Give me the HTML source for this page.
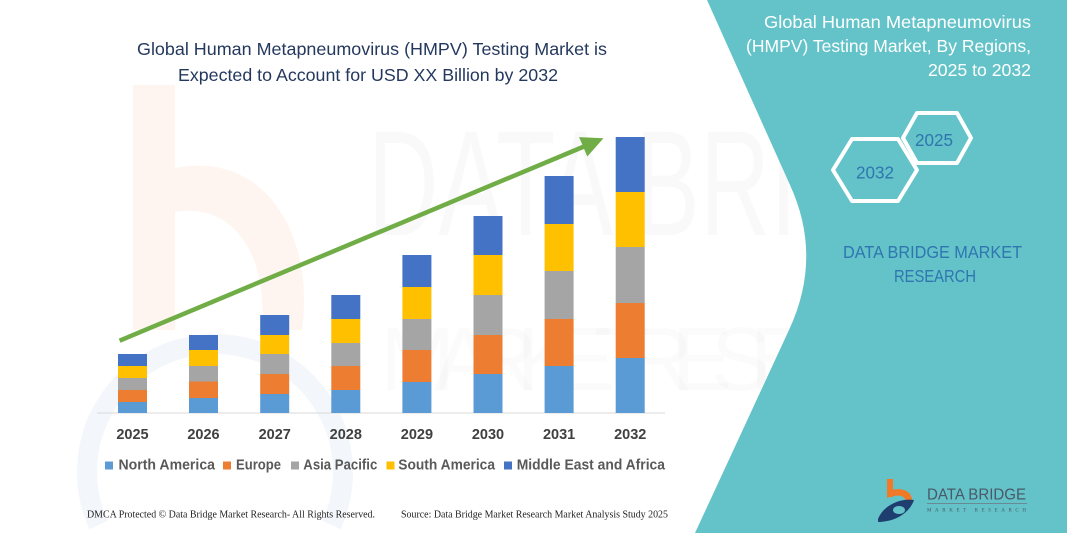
<!DOCTYPE html>
<html><head><meta charset="utf-8"><style>
html,body{margin:0;padding:0;background:#fff;width:1067px;height:533px;overflow:hidden;}
svg{display:block;}
</style></head><body>
<svg width="1067" height="533" viewBox="0 0 1067 533" xmlns="http://www.w3.org/2000/svg" font-family="'Liberation Sans', sans-serif">
<rect width="1067" height="533" fill="#fff"/>

<!-- faint watermarks -->
<path d="M133,85 h42 v245 h-42z" fill="#FEF5F1"/>
<path d="M175,168 C265,150 315,235 302,330 L262,330 C268,252 232,202 175,212Z" fill="#FEF5F1"/>
<path d="M98.5,525 A128,128 0 1 1 331.5,525" fill="none" stroke="#F3F6FA" stroke-width="20"/>
<text x="368" y="235" font-size="150" fill="#000" fill-opacity="0.022" textLength="640" lengthAdjust="spacingAndGlyphs">DATA BRIDGE</text>
<text x="380" y="390" font-size="90" fill="#000" fill-opacity="0.015" textLength="600" lengthAdjust="spacing">MARKETRESEARCH</text>

<!-- teal panel -->
<path d="M707,0 L1067,0 L1067,533 L695,533 L789,330 Q823,257 790,185 Z" fill="#63C3C8"/>

<!-- left title -->
<text x="137" y="55" font-size="17.5" fill="#24385E" textLength="470" lengthAdjust="spacingAndGlyphs">Global Human Metapneumovirus (HMPV) Testing Market is</text>
<text x="178" y="81" font-size="17.5" fill="#24385E" textLength="380" lengthAdjust="spacingAndGlyphs">Expected to Account for USD XX Billion by 2032</text>

<!-- axis line -->
<line x1="97" y1="413" x2="665" y2="413" stroke="#D9D9D9" stroke-width="1"/>

<!-- bars -->
<g>
<rect x="118" y="402" width="29" height="11" fill="#5B9BD5"/>
<rect x="118" y="390" width="29" height="12" fill="#ED7D31"/>
<rect x="118" y="378" width="29" height="12" fill="#A5A5A5"/>
<rect x="118" y="366" width="29" height="12" fill="#FFC000"/>
<rect x="118" y="354" width="29" height="12" fill="#4472C4"/>
<rect x="189" y="398" width="29" height="15" fill="#5B9BD5"/>
<rect x="189" y="381.5" width="29" height="16.5" fill="#ED7D31"/>
<rect x="189" y="366" width="29" height="15.5" fill="#A5A5A5"/>
<rect x="189" y="350" width="29" height="16" fill="#FFC000"/>
<rect x="189" y="335" width="29" height="15" fill="#4472C4"/>
<rect x="260.2" y="394" width="29" height="19" fill="#5B9BD5"/>
<rect x="260.2" y="374" width="29" height="20" fill="#ED7D31"/>
<rect x="260.2" y="354" width="29" height="20" fill="#A5A5A5"/>
<rect x="260.2" y="335" width="29" height="19" fill="#FFC000"/>
<rect x="260.2" y="315" width="29" height="20" fill="#4472C4"/>
<rect x="331.3" y="390" width="29" height="23" fill="#5B9BD5"/>
<rect x="331.3" y="366" width="29" height="24" fill="#ED7D31"/>
<rect x="331.3" y="343" width="29" height="23" fill="#A5A5A5"/>
<rect x="331.3" y="319" width="29" height="24" fill="#FFC000"/>
<rect x="331.3" y="295" width="29" height="24" fill="#4472C4"/>
<rect x="402.4" y="382" width="29" height="31" fill="#5B9BD5"/>
<rect x="402.4" y="350" width="29" height="32" fill="#ED7D31"/>
<rect x="402.4" y="319" width="29" height="31" fill="#A5A5A5"/>
<rect x="402.4" y="287" width="29" height="32" fill="#FFC000"/>
<rect x="402.4" y="255" width="29" height="32" fill="#4472C4"/>
<rect x="473.5" y="374" width="29" height="39" fill="#5B9BD5"/>
<rect x="473.5" y="335" width="29" height="39" fill="#ED7D31"/>
<rect x="473.5" y="295" width="29" height="40" fill="#A5A5A5"/>
<rect x="473.5" y="255" width="29" height="40" fill="#FFC000"/>
<rect x="473.5" y="216" width="29" height="39" fill="#4472C4"/>
<rect x="544.6" y="366" width="29" height="47" fill="#5B9BD5"/>
<rect x="544.6" y="319" width="29" height="47" fill="#ED7D31"/>
<rect x="544.6" y="271" width="29" height="48" fill="#A5A5A5"/>
<rect x="544.6" y="224" width="29" height="47" fill="#FFC000"/>
<rect x="544.6" y="176" width="29" height="48" fill="#4472C4"/>
<rect x="615.7" y="358" width="29" height="55" fill="#5B9BD5"/>
<rect x="615.7" y="303" width="29" height="55" fill="#ED7D31"/>
<rect x="615.7" y="247" width="29" height="56" fill="#A5A5A5"/>
<rect x="615.7" y="192" width="29" height="55" fill="#FFC000"/>
<rect x="615.7" y="137" width="29" height="55" fill="#4472C4"/>
</g>

<!-- arrow -->
<line x1="119.6" y1="340.7" x2="584" y2="146.5" stroke="#70AD47" stroke-width="4.5"/>
<polygon points="603.5,138.3 587.3,156.5 579.1,137.1" fill="#70AD47"/>

<!-- year labels -->
<g font-size="14.5" font-weight="bold" fill="#404040" text-anchor="middle">
<text x="132.5" y="439">2025</text>
<text x="203.5" y="439">2026</text>
<text x="274.7" y="439">2027</text>
<text x="345.8" y="439">2028</text>
<text x="416.9" y="439">2029</text>
<text x="488" y="439">2030</text>
<text x="559.1" y="439">2031</text>
<text x="630.2" y="439">2032</text>
</g>

<!-- legend -->
<rect x="105" y="461.5" width="8" height="8" fill="#5B9BD5"/>
<rect x="223" y="461.5" width="8" height="8" fill="#ED7D31"/>
<rect x="291" y="461.5" width="8" height="8" fill="#A5A5A5"/>
<rect x="386.5" y="461.5" width="8" height="8" fill="#FFC000"/>
<rect x="504" y="461.5" width="8" height="8" fill="#4472C4"/>
<g font-size="14.5" font-weight="bold" fill="#595959">
<text x="118.5" y="469.5" textLength="96.5" lengthAdjust="spacingAndGlyphs">North America</text>
<text x="236" y="469.5" textLength="45" lengthAdjust="spacingAndGlyphs">Europe</text>
<text x="303.3" y="469.5" textLength="74" lengthAdjust="spacingAndGlyphs">Asia Pacific</text>
<text x="398.3" y="469.5" textLength="96.7" lengthAdjust="spacingAndGlyphs">South America</text>
<text x="516.7" y="469.5" textLength="148.3" lengthAdjust="spacingAndGlyphs">Middle East and Africa</text>
</g>

<!-- footer -->
<g font-family="'Liberation Serif', serif" font-size="10.5" fill="#222">
<text x="87" y="517.5" textLength="288" lengthAdjust="spacingAndGlyphs">DMCA Protected © Data Bridge Market Research-  All Rights Reserved.</text>
<text x="401" y="517.5" textLength="267" lengthAdjust="spacingAndGlyphs">Source: Data Bridge Market Research  Market Analysis Study 2025</text>
</g>

<!-- right title -->
<g font-size="17.5" fill="#FFFFFF">
<text x="764" y="28" textLength="267" lengthAdjust="spacingAndGlyphs">Global Human Metapneumovirus</text>
<text x="746" y="52" textLength="285" lengthAdjust="spacingAndGlyphs">(HMPV)  Testing Market, By Regions,</text>
<text x="928" y="76" textLength="103" lengthAdjust="spacingAndGlyphs">2025 to 2032</text>
</g>

<!-- hexagons -->
<polygon points="833,170 852,139 898,139 917,170 898,201 852,201" fill="none" stroke="#FFFFFF" stroke-width="4" stroke-linejoin="round"/>
<polygon points="903,138 917,113 957,113 971,138 957,163 917,163" fill="none" stroke="#FFFFFF" stroke-width="4" stroke-linejoin="round"/>
<g font-size="17.5" fill="#2F76B0">
<text x="856" y="178.3" textLength="38" lengthAdjust="spacingAndGlyphs">2032</text>
<text x="915" y="146" textLength="38" lengthAdjust="spacingAndGlyphs">2025</text>
</g>

<!-- DBMR text -->
<g font-size="17.5" fill="#2F76B0">
<text x="843" y="258" textLength="179" lengthAdjust="spacingAndGlyphs">DATA BRIDGE MARKET</text>
<text x="894" y="282" textLength="82" lengthAdjust="spacingAndGlyphs">RESEARCH</text>
</g>

<!-- logo -->
<g>
<rect x="887" y="479" width="6" height="18" fill="#F07A28"/>
<path d="M887,492 C898,486 912,490 912,500 L906,502 C905,495 898,494 887,498Z" fill="#F07A28"/>
<path d="M878,519 C884,504 902,498 914,500 C910,512 896,522 878,522Z" fill="#1F3E70"/>
<ellipse cx="899" cy="510" rx="6" ry="4" fill="#63C3C8"/>
<text x="927" y="499.3" font-size="16" fill="#4A5868" textLength="99" lengthAdjust="spacingAndGlyphs">DATA BRIDGE</text>
<line x1="927" y1="503.5" x2="1027" y2="503.5" stroke="#6B7785" stroke-width="0.8"/>
<text x="927" y="511.5" font-size="5" font-family="'Liberation Serif', serif" fill="#4A5868" textLength="99" lengthAdjust="spacing">MARKET RESEARCH</text>
</g>
</svg>
</body></html>
